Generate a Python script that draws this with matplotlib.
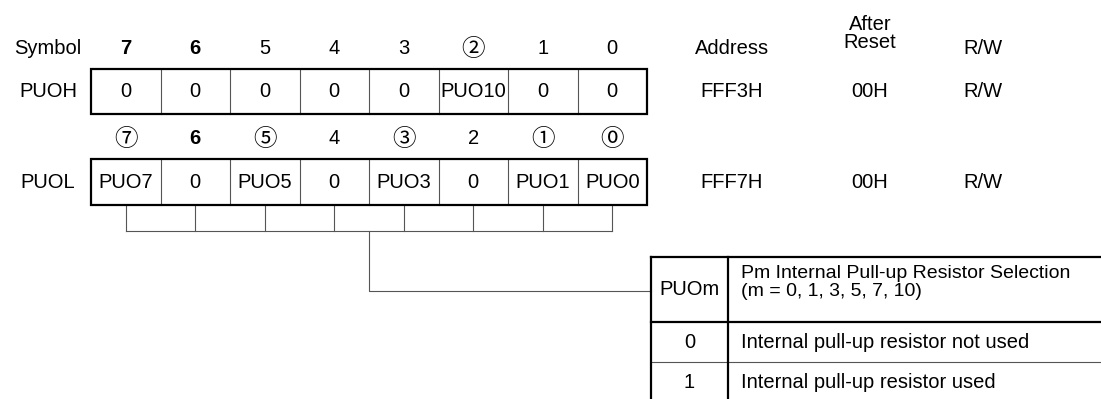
import matplotlib
matplotlib.use("Agg")
import matplotlib.pyplot as plt

plt.rcParams['font.family'] = ['Liberation Sans', 'DejaVu Sans', 'Noto Sans CJK JP']

# register contents
bits_h = ['7', '6', '5', '4', '3', '②', '1', '0']
bold_h = [True, True, False, False, False, False, False, False]
cells_h = ['0', '0', '0', '0', '0', 'PUO10', '0', '0']
bits_l = ['⑦', '6', '⑤', '4', '③', '2', '①', '⓪']
bold_l = [False, True, False, False, False, False, False, False]
cells_l = ['PUO7', '0', 'PUO5', '0', 'PUO3', '0', 'PUO1', 'PUO0']
registers = ['PUOH', 'PUOL']
addresses = ['FFF3H', 'FFF7H']
resets = ['00H', '00H']
access = ['R/W', 'R/W']

# selection table
sel_head = ['PUOm', 'Pm Internal Pull-up Resistor Selection', '(m = 0, 1, 3, 5, 7, 10)']
sel_vals = ['0', '1']
sel_text = ['Internal pull-up resistor not used', 'Internal pull-up resistor used']

W, H = 1101, 399
fig = plt.figure(figsize=(W / 100, H / 100), dpi=100)
ax = fig.add_axes([0, 0, 1, 1])
ax.set_xlim(0, W)
ax.set_ylim(H, 0)
ax.axis('off')

FS = 14.5
thick = 1.6
thin = 0.8
grey = '#555555'
circled = set('⓪①②③④⑤⑥⑦')

x0, cw = 91, 69.5
rows = [(69, 114, 48, bits_h, bold_h, cells_h), (159, 205, 138, bits_l, bold_l, cells_l)]
col_sym, col_addr, col_rst, col_rw = 48, 732, 870, 983

ax.text(col_sym, 48, 'Symbol', fontsize=FS, ha='center', va='center')
ax.text(col_addr, 48, 'Address', fontsize=FS, ha='center', va='center')
ax.text(col_rst, 24, 'After', fontsize=FS, ha='center', va='center')
ax.text(col_rst, 43, 'Reset', fontsize=FS, ha='center', va='center')
ax.text(col_rw, 48, 'R/W', fontsize=FS, ha='center', va='center')

for r, (top, bot, hy, bits, bolds, cells) in enumerate(rows):
    ymid = (top + bot) / 2
    for i in range(8):
        xc = x0 + (i + 0.5) * cw
        if bits[i] in circled:
            ax.text(xc, hy + 1, bits[i], fontsize=17, ha='center', va='center',
                    family=['Noto Sans CJK JP', 'DejaVu Sans'])
        else:
            ax.text(xc, hy, bits[i], fontsize=FS, ha='center', va='center',
                    fontweight='bold' if bolds[i] else 'normal')
        ax.text(xc, ymid, cells[i], fontsize=FS, ha='center', va='center')
        if i > 0:
            ax.plot([x0 + i * cw] * 2, [top, bot], color=grey, lw=thin)
    ax.add_patch(plt.Rectangle((x0, top), 8 * cw, bot - top, fill=False,
                               edgecolor='black', lw=thick, zorder=3))
    ax.text(col_sym, ymid, registers[r], fontsize=FS, ha='center', va='center')
    ax.text(col_addr, ymid, addresses[r], fontsize=FS, ha='center', va='center')
    ax.text(col_rst, ymid, resets[r], fontsize=FS, ha='center', va='center')
    ax.text(col_rw, ymid, access[r], fontsize=FS, ha='center', va='center')

# bracket under PUOL
by = 231
centers = [x0 + (i + 0.5) * cw for i in range(8)]
for xc in centers:
    ax.plot([xc, xc], [205, by], color=grey, lw=thin)
ax.plot([centers[0], centers[-1]], [by, by], color=grey, lw=thin)
xd = x0 + 4 * cw
ty = 291
ax.plot([xd, xd, 651], [by, ty, ty], color=grey, lw=thin)

# selection table
tl, tc, tt, th, tr = 651, 728, 257, 322, 362
ax.plot([tl, W + 5], [tt, tt], color='black', lw=thick)
ax.plot([tl, W + 5], [th, th], color='black', lw=thick)
ax.plot([tl, W + 5], [tr, tr], color=grey, lw=thin)
ax.plot([tl, tl], [tt, H + 5], color='black', lw=thick)
ax.plot([tc, tc], [tt, H + 5], color='black', lw=thick)
ax.text((tl + tc) / 2, (tt + th) / 2, sel_head[0], fontsize=FS, ha='center', va='center')
ax.text(741, 278, sel_head[1], fontsize=14, ha='left', va='baseline')
ax.text(741, 296, sel_head[2], fontsize=14, ha='left', va='baseline')
row_y = [342, 382]
for v, t, y in zip(sel_vals, sel_text, row_y):
    ax.text((tl + tc) / 2, y, v, fontsize=FS, ha='center', va='center')
    ax.text(741, y, t, fontsize=FS, ha='left', va='center')

fig.savefig('out.png', dpi=100)
